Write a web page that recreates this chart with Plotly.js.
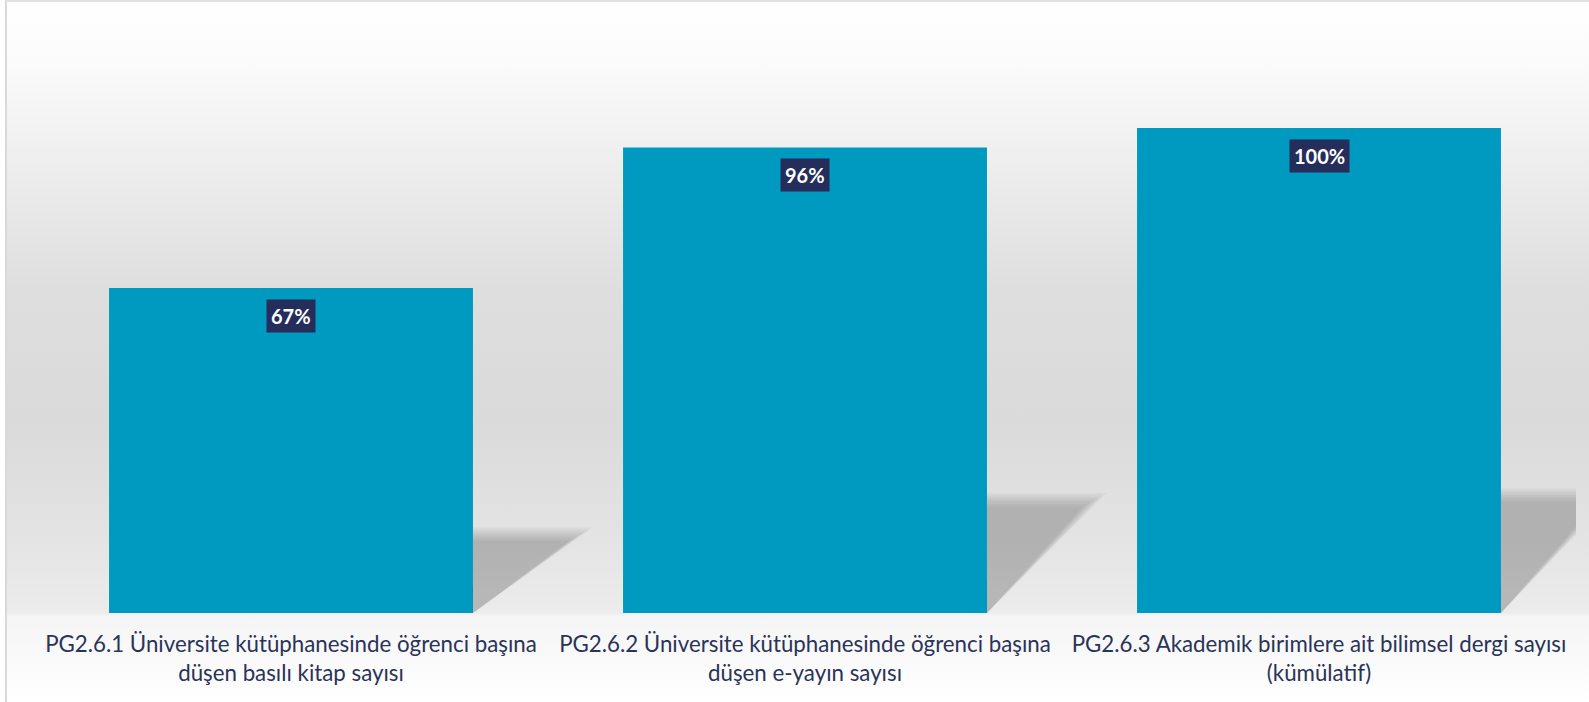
<!DOCTYPE html>
<html>
<head>
<meta charset="utf-8">
<script src="https://cdn.plot.ly/plotly-3.0.1.min.js"></script>
<style>
  html, body { margin: 0; padding: 0; background: #ffffff; overflow: hidden; }
  #wrap { position: relative; width: 1589px; height: 702px; }
  #bg {
    position: absolute; left: 7px; top: 2px; right: 0; bottom: 0;
    background: linear-gradient(to bottom,
      #ffffff 0px, #fbfbfb 60px, #efefef 150px, #dedede 290px,
      #dadada 420px, #e4e4e4 540px, #ececec 611px,
      #f5f5f5 614px, #fafafa 660px, #ffffff 700px);
  }
  #frame {
    position: absolute; left: 5px; top: 0px; right: -4px; bottom: -4px;
    border-left: 2px solid #d9d9d9; border-top: 2px solid #e2e2e2;
  }
  #chart { position: absolute; left: 0; top: 0; width: 1589px; height: 702px; }
</style>
</head>
<body>
<div id="wrap">
  <div id="bg"></div>
  <div id="frame"></div>
  <div id="chart"></div>
</div>
<script>
const categories = [
  "PG2.6.1 Üniversite kütüphanesinde öğrenci başına<br>düşen basılı kitap sayısı",
  "PG2.6.2 Üniversite kütüphanesinde öğrenci başına<br>düşen e-yayın sayısı",
  "PG2.6.3 Akademik birimlere ait bilimsel dergi sayısı<br>(kümülatif)"
];
const values = [0.67, 0.96, 1.00];
const valueLabels = ["67%", "96%", "100%"];

const positions = categories.map((c, i) => i);
const barWidth = 0.708;
const half = barWidth / 2;

// soft perspective shadows behind bars (decorative), derived from bar values
const shadowTraces = [];
const nLayers = 7;
positions.forEach((p, i) => {
  const v = values[i];
  for (let k = 0; k < nLayers; k++) {
    const hs = 0.245 * v + 0.012 - k * 0.0045;
    const ds = 0.232 - k * 0.0075;
    shadowTraces.push({
      type: "scatter", mode: "lines",
      x: [p + half, p + half, p + half + ds, p + half],
      y: [0, hs, hs, 0],
      fill: "toself",
      fillcolor: "rgba(110,110,110,0.065)",
      line: {width: 0, color: "rgba(0,0,0,0)"},
      hoverinfo: "skip", showlegend: false
    });
  }
});

const barTrace = {
  type: "bar",
  x: positions,
  y: values,
  width: barWidth,
  marker: {color: "#0099bf", line: {width: 0}},
  hoverinfo: "skip",
  showlegend: false
};

const annotations = positions.map((p, i) => ({
  x: p, y: values[i], xref: "x", yref: "y",
  text: "<b>" + valueLabels[i] + "</b>",
  showarrow: false,
  yanchor: "top", xanchor: "center",
  yshift: -11,
  bgcolor: "#252d5b",
  borderpad: 4,
  font: {family: "Lato, 'Open Sans', sans-serif", size: 20, color: "#ffffff"}
}));

const layout = {
  width: 1589, height: 702,
  margin: {l: 34, r: 13, t: 31, b: 89},
  paper_bgcolor: "rgba(0,0,0,0)",
  plot_bgcolor: "rgba(0,0,0,0)",
  showlegend: false,
  xaxis: {
    range: [-0.5, 2.5],
    tickvals: positions,
    ticktext: categories,
    showgrid: false, zeroline: false, showline: false,
    ticks: "",
    ticklabelstandoff: 16,
    tickfont: {family: "Lato, 'Open Sans', sans-serif", size: 22.3, color: "#2a3358"},
    fixedrange: true
  },
  yaxis: {
    range: [0, 1.2],
    visible: false,
    showgrid: false, zeroline: false,
    fixedrange: true
  },
  annotations: annotations
};

Plotly.newPlot("chart", shadowTraces.concat([barTrace]), layout, {displayModeBar: false, staticPlot: true});
</script>
</body>
</html>
